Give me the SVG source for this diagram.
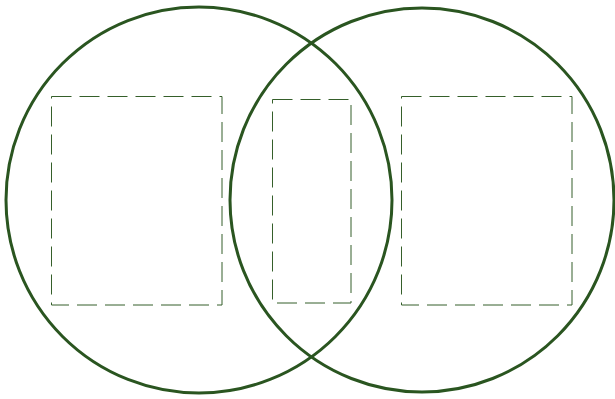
<svg xmlns="http://www.w3.org/2000/svg" width="615" height="399" viewBox="0 0 615 399">
<style>
.set{fill:none;stroke:#2a5520;stroke-width:3}
.region{fill:none;stroke:#355f2a;stroke-width:1;stroke-dasharray:20 8}
</style>
<rect width="615" height="399" fill="#ffffff"/>
<g id="set-left"><circle class="set" cx="199" cy="200" r="193"/></g>
<g id="set-right"><circle class="set" cx="422" cy="200" r="192"/></g>
<g id="region-left"><rect class="region" x="51.5" y="96.5" width="170.5" height="208.5"/></g>
<g id="region-middle"><rect class="region" x="272.5" y="99.5" width="78.5" height="203.5"/></g>
<g id="region-right"><rect class="region" x="401.5" y="96.5" width="170.5" height="208.5"/></g>
<g id="connectors"></g>
</svg>
